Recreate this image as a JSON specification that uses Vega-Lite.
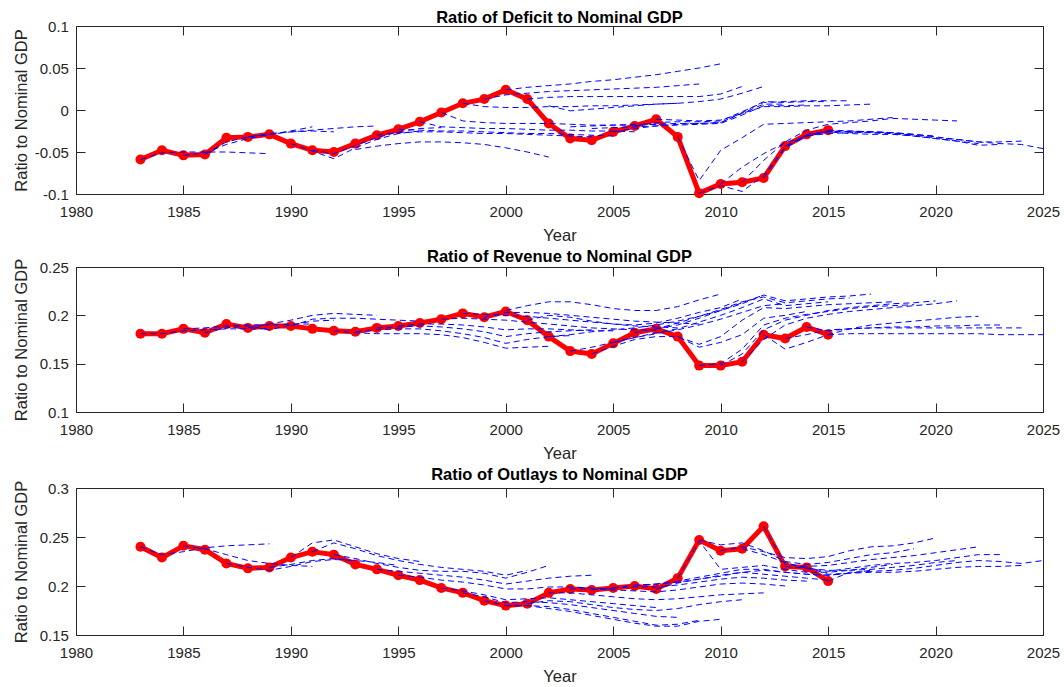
{
"$schema": "https://vega.github.io/schema/vega-lite/v6.json",
"padding": {"top": 9, "left": 12, "right": 5, "bottom": 5},
"spacing": 4,
"config": {
  "font": "Liberation Sans",
  "view": {"stroke": "#262626", "strokeWidth": 1},
  "axis": {"grid": false, "domainColor": "#262626", "tickColor": "#262626", "labelColor": "#262626", "titleColor": "#262626", "labelFont": "Liberation Sans", "labelFontSize": 15, "titleFont": "Liberation Sans", "titleFontSize": 16.5, "titleFontWeight": "normal", "tickSize": -9, "labelFlush": false, "labelOverlap": false},
  "axisX": {"labelPadding": 19},
  "axisY": {"labelPadding": 16.6},
  "axisBottom": {"titleY": 46, "titleBaseline": "alphabetic"},
  "axisLeft": {"titleX": -50, "titleBaseline": "alphabetic"},
  "title": {"font": "Liberation Sans", "fontSize": 16.5, "fontWeight": "bold", "color": "#000000", "anchor": "middle", "offset": -7, "baseline": "alphabetic"}
},
"datasets": {
"defAct": [{"year":1983,"value":-0.059},{"year":1984,"value":-0.048},{"year":1985,"value":-0.054},{"year":1986,"value":-0.053},{"year":1987,"value":-0.033},{"year":1988,"value":-0.032},{"year":1989,"value":-0.029},{"year":1990,"value":-0.040},{"year":1991,"value":-0.048},{"year":1992,"value":-0.050},{"year":1993,"value":-0.040},{"year":1994,"value":-0.030},{"year":1995,"value":-0.023},{"year":1996,"value":-0.014},{"year":1997,"value":-0.003},{"year":1998,"value":0.008},{"year":1999,"value":0.013},{"year":2000,"value":0.024},{"year":2001,"value":0.013},{"year":2002,"value":-0.016},{"year":2003,"value":-0.034},{"year":2004,"value":-0.036},{"year":2005,"value":-0.026},{"year":2006,"value":-0.019},{"year":2007,"value":-0.011},{"year":2008,"value":-0.032},{"year":2009,"value":-0.099},{"year":2010,"value":-0.088},{"year":2011,"value":-0.086},{"year":2012,"value":-0.081},{"year":2013,"value":-0.043},{"year":2014,"value":-0.029},{"year":2015,"value":-0.024}],
"revAct": [{"year":1983,"value":0.181},{"year":1984,"value":0.181},{"year":1985,"value":0.186},{"year":1986,"value":0.182},{"year":1987,"value":0.191},{"year":1988,"value":0.187},{"year":1989,"value":0.189},{"year":1990,"value":0.189},{"year":1991,"value":0.186},{"year":1992,"value":0.184},{"year":1993,"value":0.183},{"year":1994,"value":0.187},{"year":1995,"value":0.189},{"year":1996,"value":0.192},{"year":1997,"value":0.196},{"year":1998,"value":0.202},{"year":1999,"value":0.198},{"year":2000,"value":0.204},{"year":2001,"value":0.195},{"year":2002,"value":0.178},{"year":2003,"value":0.163},{"year":2004,"value":0.160},{"year":2005,"value":0.171},{"year":2006,"value":0.182},{"year":2007,"value":0.186},{"year":2008,"value":0.178},{"year":2009,"value":0.148},{"year":2010,"value":0.148},{"year":2011,"value":0.152},{"year":2012,"value":0.180},{"year":2013,"value":0.176},{"year":2014,"value":0.188},{"year":2015,"value":0.180}],
"outAct": [{"year":1983,"value":0.240},{"year":1984,"value":0.229},{"year":1985,"value":0.241},{"year":1986,"value":0.237},{"year":1987,"value":0.223},{"year":1988,"value":0.218},{"year":1989,"value":0.219},{"year":1990,"value":0.229},{"year":1991,"value":0.235},{"year":1992,"value":0.232},{"year":1993,"value":0.222},{"year":1994,"value":0.217},{"year":1995,"value":0.211},{"year":1996,"value":0.206},{"year":1997,"value":0.198},{"year":1998,"value":0.193},{"year":1999,"value":0.185},{"year":2000,"value":0.180},{"year":2001,"value":0.182},{"year":2002,"value":0.193},{"year":2003,"value":0.197},{"year":2004,"value":0.196},{"year":2005,"value":0.198},{"year":2006,"value":0.200},{"year":2007,"value":0.197},{"year":2008,"value":0.208},{"year":2009,"value":0.247},{"year":2010,"value":0.236},{"year":2011,"value":0.238},{"year":2012,"value":0.261},{"year":2013,"value":0.220},{"year":2014,"value":0.219},{"year":2015,"value":0.205}],
"defFc": [
{"vintage":1983,"year":1983,"value":-0.059},{"vintage":1983,"year":1984,"value":-0.051},{"vintage":1983,"year":1985,"value":-0.050},{"vintage":1983,"year":1986,"value":-0.050},{"vintage":1983,"year":1987,"value":-0.050},{"vintage":1983,"year":1988,"value":-0.051},{"vintage":1983,"year":1989,"value":-0.052},
{"vintage":1985,"year":1985,"value":-0.054},{"vintage":1985,"year":1986,"value":-0.051},{"vintage":1985,"year":1987,"value":-0.041},{"vintage":1985,"year":1988,"value":-0.034},{"vintage":1985,"year":1989,"value":-0.029},{"vintage":1985,"year":1990,"value":-0.025},{"vintage":1985,"year":1991,"value":-0.020},
{"vintage":1986,"year":1986,"value":-0.053},{"vintage":1986,"year":1987,"value":-0.038},{"vintage":1986,"year":1988,"value":-0.032},{"vintage":1986,"year":1989,"value":-0.028},{"vintage":1986,"year":1990,"value":-0.026},{"vintage":1986,"year":1991,"value":-0.025},{"vintage":1986,"year":1992,"value":-0.026},
{"vintage":1988,"year":1988,"value":-0.032},{"vintage":1988,"year":1989,"value":-0.029},{"vintage":1988,"year":1990,"value":-0.026},{"vintage":1988,"year":1991,"value":-0.024},{"vintage":1988,"year":1992,"value":-0.022},{"vintage":1988,"year":1993,"value":-0.020},{"vintage":1988,"year":1994,"value":-0.019},
{"vintage":1990,"year":1990,"value":-0.040},{"vintage":1990,"year":1991,"value":-0.049},{"vintage":1990,"year":1992,"value":-0.058},{"vintage":1990,"year":1993,"value":-0.045},{"vintage":1990,"year":1994,"value":-0.035},{"vintage":1990,"year":1995,"value":-0.028},{"vintage":1990,"year":1996,"value":-0.025},
{"vintage":1991,"year":1991,"value":-0.048},{"vintage":1991,"year":1992,"value":-0.052},{"vintage":1991,"year":1993,"value":-0.042},{"vintage":1991,"year":1994,"value":-0.033},{"vintage":1991,"year":1995,"value":-0.026},{"vintage":1991,"year":1996,"value":-0.022},{"vintage":1991,"year":1997,"value":-0.021},
{"vintage":1993,"year":1993,"value":-0.047},{"vintage":1993,"year":1994,"value":-0.043},{"vintage":1993,"year":1995,"value":-0.040},{"vintage":1993,"year":1996,"value":-0.038},{"vintage":1993,"year":1997,"value":-0.038},{"vintage":1993,"year":1998,"value":-0.039},{"vintage":1993,"year":1999,"value":-0.041},{"vintage":1993,"year":2000,"value":-0.045},{"vintage":1993,"year":2001,"value":-0.050},{"vintage":1993,"year":2002,"value":-0.056},
{"vintage":1994,"year":1994,"value":-0.030},{"vintage":1994,"year":1995,"value":-0.027},{"vintage":1994,"year":1996,"value":-0.026},{"vintage":1994,"year":1997,"value":-0.026},{"vintage":1994,"year":1998,"value":-0.027},{"vintage":1994,"year":1999,"value":-0.028},{"vintage":1994,"year":2000,"value":-0.028},{"vintage":1994,"year":2001,"value":-0.029},{"vintage":1994,"year":2002,"value":-0.030},{"vintage":1994,"year":2003,"value":-0.031},{"vintage":1994,"year":2004,"value":-0.032},
{"vintage":1995,"year":1995,"value":-0.023},{"vintage":1995,"year":1996,"value":-0.024},{"vintage":1995,"year":1997,"value":-0.025},{"vintage":1995,"year":1998,"value":-0.025},{"vintage":1995,"year":1999,"value":-0.026},{"vintage":1995,"year":2000,"value":-0.027},{"vintage":1995,"year":2001,"value":-0.028},{"vintage":1995,"year":2002,"value":-0.028},{"vintage":1995,"year":2003,"value":-0.029},{"vintage":1995,"year":2004,"value":-0.030},{"vintage":1995,"year":2005,"value":-0.031},
{"vintage":1996,"year":1996,"value":-0.014},{"vintage":1996,"year":1997,"value":-0.020},{"vintage":1996,"year":1998,"value":-0.021},{"vintage":1996,"year":1999,"value":-0.022},{"vintage":1996,"year":2000,"value":-0.022},{"vintage":1996,"year":2001,"value":-0.023},{"vintage":1996,"year":2002,"value":-0.024},{"vintage":1996,"year":2003,"value":-0.024},{"vintage":1996,"year":2004,"value":-0.025},{"vintage":1996,"year":2005,"value":-0.025},{"vintage":1996,"year":2006,"value":-0.026},
{"vintage":1997,"year":1997,"value":-0.003},{"vintage":1997,"year":1998,"value":-0.013},{"vintage":1997,"year":1999,"value":-0.015},{"vintage":1997,"year":2000,"value":-0.016},{"vintage":1997,"year":2001,"value":-0.016},{"vintage":1997,"year":2002,"value":-0.016},{"vintage":1997,"year":2003,"value":-0.017},{"vintage":1997,"year":2004,"value":-0.018},{"vintage":1997,"year":2005,"value":-0.018},{"vintage":1997,"year":2006,"value":-0.018},{"vintage":1997,"year":2007,"value":-0.017},
{"vintage":1998,"year":1998,"value":0.008},{"vintage":1998,"year":1999,"value":0.004},{"vintage":1998,"year":2000,"value":0.003},{"vintage":1998,"year":2001,"value":0.003},{"vintage":1998,"year":2002,"value":0.004},{"vintage":1998,"year":2003,"value":0.004},{"vintage":1998,"year":2004,"value":0.005},{"vintage":1998,"year":2005,"value":0.005},{"vintage":1998,"year":2006,"value":0.006},{"vintage":1998,"year":2007,"value":0.007},{"vintage":1998,"year":2008,"value":0.008},
{"vintage":1999,"year":1999,"value":0.013},{"vintage":1999,"year":2000,"value":0.018},{"vintage":1999,"year":2001,"value":0.020},{"vintage":1999,"year":2002,"value":0.022},{"vintage":1999,"year":2003,"value":0.023},{"vintage":1999,"year":2004,"value":0.024},{"vintage":1999,"year":2005,"value":0.025},{"vintage":1999,"year":2006,"value":0.026},{"vintage":1999,"year":2007,"value":0.027},{"vintage":1999,"year":2008,"value":0.029},{"vintage":1999,"year":2009,"value":0.031},
{"vintage":2000,"year":2000,"value":0.024},{"vintage":2000,"year":2001,"value":0.027},{"vintage":2000,"year":2002,"value":0.029},{"vintage":2000,"year":2003,"value":0.031},{"vintage":2000,"year":2004,"value":0.034},{"vintage":2000,"year":2005,"value":0.036},{"vintage":2000,"year":2006,"value":0.039},{"vintage":2000,"year":2007,"value":0.042},{"vintage":2000,"year":2008,"value":0.046},{"vintage":2000,"year":2009,"value":0.050},{"vintage":2000,"year":2010,"value":0.055},
{"vintage":2001,"year":2001,"value":0.013},{"vintage":2001,"year":2002,"value":0.015},{"vintage":2001,"year":2003,"value":0.016},{"vintage":2001,"year":2004,"value":0.016},{"vintage":2001,"year":2005,"value":0.016},{"vintage":2001,"year":2006,"value":0.016},{"vintage":2001,"year":2007,"value":0.016},{"vintage":2001,"year":2008,"value":0.016},{"vintage":2001,"year":2009,"value":0.016},{"vintage":2001,"year":2010,"value":0.019},{"vintage":2001,"year":2011,"value":0.028},
{"vintage":2002,"year":2002,"value":0.005},{"vintage":2002,"year":2003,"value":-0.001},{"vintage":2002,"year":2004,"value":0.001},{"vintage":2002,"year":2005,"value":0.003},{"vintage":2002,"year":2006,"value":0.005},{"vintage":2002,"year":2007,"value":0.007},{"vintage":2002,"year":2008,"value":0.008},{"vintage":2002,"year":2009,"value":0.010},{"vintage":2002,"year":2010,"value":0.013},{"vintage":2002,"year":2011,"value":0.020},{"vintage":2002,"year":2012,"value":0.028},
{"vintage":2003,"year":2003,"value":-0.020},{"vintage":2003,"year":2004,"value":-0.019},{"vintage":2003,"year":2005,"value":-0.018},{"vintage":2003,"year":2006,"value":-0.017},{"vintage":2003,"year":2007,"value":-0.017},{"vintage":2003,"year":2008,"value":-0.016},{"vintage":2003,"year":2009,"value":-0.016},{"vintage":2003,"year":2010,"value":-0.015},{"vintage":2003,"year":2011,"value":-0.004},{"vintage":2003,"year":2012,"value":0.007},{"vintage":2003,"year":2013,"value":0.007},
{"vintage":2004,"year":2004,"value":-0.022},{"vintage":2004,"year":2005,"value":-0.021},{"vintage":2004,"year":2006,"value":-0.020},{"vintage":2004,"year":2007,"value":-0.019},{"vintage":2004,"year":2008,"value":-0.018},{"vintage":2004,"year":2009,"value":-0.017},{"vintage":2004,"year":2010,"value":-0.016},{"vintage":2004,"year":2011,"value":-0.006},{"vintage":2004,"year":2012,"value":0.005},{"vintage":2004,"year":2013,"value":0.005},{"vintage":2004,"year":2014,"value":0.006},
{"vintage":2005,"year":2005,"value":-0.026},{"vintage":2005,"year":2006,"value":-0.022},{"vintage":2005,"year":2007,"value":-0.019},{"vintage":2005,"year":2008,"value":-0.017},{"vintage":2005,"year":2009,"value":-0.016},{"vintage":2005,"year":2010,"value":-0.015},{"vintage":2005,"year":2011,"value":-0.003},{"vintage":2005,"year":2012,"value":0.010},{"vintage":2005,"year":2013,"value":0.009},{"vintage":2005,"year":2014,"value":0.010},{"vintage":2005,"year":2015,"value":0.010},
{"vintage":2006,"year":2006,"value":-0.019},{"vintage":2006,"year":2007,"value":-0.015},{"vintage":2006,"year":2008,"value":-0.014},{"vintage":2006,"year":2009,"value":-0.014},{"vintage":2006,"year":2010,"value":-0.013},{"vintage":2006,"year":2011,"value":-0.002},{"vintage":2006,"year":2012,"value":0.009},{"vintage":2006,"year":2013,"value":0.010},{"vintage":2006,"year":2014,"value":0.011},{"vintage":2006,"year":2015,"value":0.011},{"vintage":2006,"year":2016,"value":0.011},
{"vintage":2007,"year":2007,"value":-0.011},{"vintage":2007,"year":2008,"value":-0.012},{"vintage":2007,"year":2009,"value":-0.013},{"vintage":2007,"year":2010,"value":-0.012},{"vintage":2007,"year":2011,"value":-0.004},{"vintage":2007,"year":2012,"value":0.004},{"vintage":2007,"year":2013,"value":0.004},{"vintage":2007,"year":2014,"value":0.005},{"vintage":2007,"year":2015,"value":0.005},{"vintage":2007,"year":2016,"value":0.006},{"vintage":2007,"year":2017,"value":0.007},
{"vintage":2008,"year":2008,"value":-0.032},{"vintage":2008,"year":2009,"value":-0.084},{"vintage":2008,"year":2010,"value":-0.048},{"vintage":2008,"year":2011,"value":-0.033},{"vintage":2008,"year":2012,"value":-0.017},{"vintage":2008,"year":2013,"value":-0.016},{"vintage":2008,"year":2014,"value":-0.015},{"vintage":2008,"year":2015,"value":-0.014},{"vintage":2008,"year":2016,"value":-0.013},{"vintage":2008,"year":2017,"value":-0.011},{"vintage":2008,"year":2018,"value":-0.009},
{"vintage":2009,"year":2009,"value":-0.099},{"vintage":2009,"year":2010,"value":-0.090},{"vintage":2009,"year":2011,"value":-0.097},{"vintage":2009,"year":2012,"value":-0.078},{"vintage":2009,"year":2013,"value":-0.044},{"vintage":2009,"year":2014,"value":-0.031},{"vintage":2009,"year":2015,"value":-0.026},{"vintage":2009,"year":2016,"value":-0.026},{"vintage":2009,"year":2017,"value":-0.027},{"vintage":2009,"year":2018,"value":-0.028},{"vintage":2009,"year":2019,"value":-0.030},
{"vintage":2010,"year":2010,"value":-0.088},{"vintage":2010,"year":2011,"value":-0.068},{"vintage":2010,"year":2012,"value":-0.052},{"vintage":2010,"year":2013,"value":-0.039},{"vintage":2010,"year":2014,"value":-0.031},{"vintage":2010,"year":2015,"value":-0.028},{"vintage":2010,"year":2016,"value":-0.027},{"vintage":2010,"year":2017,"value":-0.026},{"vintage":2010,"year":2018,"value":-0.027},{"vintage":2010,"year":2019,"value":-0.029},{"vintage":2010,"year":2020,"value":-0.031},
{"vintage":2011,"year":2011,"value":-0.086},{"vintage":2011,"year":2012,"value":-0.060},{"vintage":2011,"year":2013,"value":-0.038},{"vintage":2011,"year":2014,"value":-0.024},{"vintage":2011,"year":2015,"value":-0.017},{"vintage":2011,"year":2016,"value":-0.015},{"vintage":2011,"year":2017,"value":-0.013},{"vintage":2011,"year":2018,"value":-0.010},{"vintage":2011,"year":2019,"value":-0.011},{"vintage":2011,"year":2020,"value":-0.012},{"vintage":2011,"year":2021,"value":-0.013},
{"vintage":2012,"year":2012,"value":-0.081},{"vintage":2012,"year":2013,"value":-0.045},{"vintage":2012,"year":2014,"value":-0.031},{"vintage":2012,"year":2015,"value":-0.025},{"vintage":2012,"year":2016,"value":-0.026},{"vintage":2012,"year":2017,"value":-0.027},{"vintage":2012,"year":2018,"value":-0.028},{"vintage":2012,"year":2019,"value":-0.031},{"vintage":2012,"year":2020,"value":-0.034},{"vintage":2012,"year":2021,"value":-0.037},{"vintage":2012,"year":2022,"value":-0.040},
{"vintage":2013,"year":2013,"value":-0.043},{"vintage":2013,"year":2014,"value":-0.030},{"vintage":2013,"year":2015,"value":-0.026},{"vintage":2013,"year":2016,"value":-0.028},{"vintage":2013,"year":2017,"value":-0.029},{"vintage":2013,"year":2018,"value":-0.029},{"vintage":2013,"year":2019,"value":-0.031},{"vintage":2013,"year":2020,"value":-0.034},{"vintage":2013,"year":2021,"value":-0.037},{"vintage":2013,"year":2022,"value":-0.042},{"vintage":2013,"year":2023,"value":-0.041},
{"vintage":2014,"year":2014,"value":-0.029},{"vintage":2014,"year":2015,"value":-0.025},{"vintage":2014,"year":2016,"value":-0.025},{"vintage":2014,"year":2017,"value":-0.026},{"vintage":2014,"year":2018,"value":-0.027},{"vintage":2014,"year":2019,"value":-0.030},{"vintage":2014,"year":2020,"value":-0.033},{"vintage":2014,"year":2021,"value":-0.035},{"vintage":2014,"year":2022,"value":-0.038},{"vintage":2014,"year":2023,"value":-0.038},{"vintage":2014,"year":2024,"value":-0.037},
{"vintage":2015,"year":2015,"value":-0.024},{"vintage":2015,"year":2016,"value":-0.025},{"vintage":2015,"year":2017,"value":-0.026},{"vintage":2015,"year":2018,"value":-0.027},{"vintage":2015,"year":2019,"value":-0.029},{"vintage":2015,"year":2020,"value":-0.032},{"vintage":2015,"year":2021,"value":-0.035},{"vintage":2015,"year":2022,"value":-0.038},{"vintage":2015,"year":2023,"value":-0.040},{"vintage":2015,"year":2024,"value":-0.041},{"vintage":2015,"year":2025,"value":-0.046}
],
"revFc": [
{"vintage":1983,"year":1983,"value":0.181},{"vintage":1983,"year":1984,"value":0.181},{"vintage":1983,"year":1985,"value":0.184},{"vintage":1983,"year":1986,"value":0.185},{"vintage":1983,"year":1987,"value":0.186},{"vintage":1983,"year":1988,"value":0.186},{"vintage":1983,"year":1989,"value":0.186},
{"vintage":1985,"year":1985,"value":0.186},{"vintage":1985,"year":1986,"value":0.187},{"vintage":1985,"year":1987,"value":0.189},{"vintage":1985,"year":1988,"value":0.190},{"vintage":1985,"year":1989,"value":0.190},{"vintage":1985,"year":1990,"value":0.191},{"vintage":1985,"year":1991,"value":0.191},
{"vintage":1986,"year":1986,"value":0.182},{"vintage":1986,"year":1987,"value":0.187},{"vintage":1986,"year":1988,"value":0.189},{"vintage":1986,"year":1989,"value":0.185},{"vintage":1986,"year":1990,"value":0.190},{"vintage":1986,"year":1991,"value":0.194},{"vintage":1986,"year":1992,"value":0.195},
{"vintage":1988,"year":1988,"value":0.187},{"vintage":1988,"year":1989,"value":0.191},{"vintage":1988,"year":1990,"value":0.195},{"vintage":1988,"year":1991,"value":0.200},{"vintage":1988,"year":1992,"value":0.202},{"vintage":1988,"year":1993,"value":0.201},{"vintage":1988,"year":1994,"value":0.200},
{"vintage":1990,"year":1990,"value":0.189},{"vintage":1990,"year":1991,"value":0.196},{"vintage":1990,"year":1992,"value":0.197},{"vintage":1990,"year":1993,"value":0.197},{"vintage":1990,"year":1994,"value":0.196},{"vintage":1990,"year":1995,"value":0.195},{"vintage":1990,"year":1996,"value":0.194},
{"vintage":1992,"year":1992,"value":0.184},{"vintage":1992,"year":1993,"value":0.182},{"vintage":1992,"year":1994,"value":0.181},{"vintage":1992,"year":1995,"value":0.181},{"vintage":1992,"year":1996,"value":0.181},{"vintage":1992,"year":1997,"value":0.180},{"vintage":1992,"year":1998,"value":0.177},{"vintage":1992,"year":1999,"value":0.172},{"vintage":1992,"year":2000,"value":0.166},{"vintage":1992,"year":2001,"value":0.167},{"vintage":1992,"year":2002,"value":0.168},
{"vintage":1993,"year":1993,"value":0.183},{"vintage":1993,"year":1994,"value":0.185},{"vintage":1993,"year":1995,"value":0.186},{"vintage":1993,"year":1996,"value":0.186},{"vintage":1993,"year":1997,"value":0.184},{"vintage":1993,"year":1998,"value":0.181},{"vintage":1993,"year":1999,"value":0.177},{"vintage":1993,"year":2000,"value":0.171},{"vintage":1993,"year":2001,"value":0.175},{"vintage":1993,"year":2002,"value":0.178},{"vintage":1993,"year":2003,"value":0.179},
{"vintage":1994,"year":1994,"value":0.187},{"vintage":1994,"year":1995,"value":0.188},{"vintage":1994,"year":1996,"value":0.189},{"vintage":1994,"year":1997,"value":0.188},{"vintage":1994,"year":1998,"value":0.186},{"vintage":1994,"year":1999,"value":0.183},{"vintage":1994,"year":2000,"value":0.178},{"vintage":1994,"year":2001,"value":0.181},{"vintage":1994,"year":2002,"value":0.183},{"vintage":1994,"year":2003,"value":0.184},{"vintage":1994,"year":2004,"value":0.185},
{"vintage":1995,"year":1995,"value":0.189},{"vintage":1995,"year":1996,"value":0.191},{"vintage":1995,"year":1997,"value":0.191},{"vintage":1995,"year":1998,"value":0.190},{"vintage":1995,"year":1999,"value":0.188},{"vintage":1995,"year":2000,"value":0.185},{"vintage":1995,"year":2001,"value":0.186},{"vintage":1995,"year":2002,"value":0.186},{"vintage":1995,"year":2003,"value":0.185},{"vintage":1995,"year":2004,"value":0.184},{"vintage":1995,"year":2005,"value":0.184},
{"vintage":1997,"year":1997,"value":0.196},{"vintage":1997,"year":1998,"value":0.197},{"vintage":1997,"year":1999,"value":0.196},{"vintage":1997,"year":2000,"value":0.195},{"vintage":1997,"year":2001,"value":0.193},{"vintage":1997,"year":2002,"value":0.191},{"vintage":1997,"year":2003,"value":0.189},{"vintage":1997,"year":2004,"value":0.187},{"vintage":1997,"year":2005,"value":0.186},{"vintage":1997,"year":2006,"value":0.185},{"vintage":1997,"year":2007,"value":0.185},
{"vintage":1998,"year":1998,"value":0.202},{"vintage":1998,"year":1999,"value":0.201},{"vintage":1998,"year":2000,"value":0.200},{"vintage":1998,"year":2001,"value":0.199},{"vintage":1998,"year":2002,"value":0.197},{"vintage":1998,"year":2003,"value":0.195},{"vintage":1998,"year":2004,"value":0.193},{"vintage":1998,"year":2005,"value":0.191},{"vintage":1998,"year":2006,"value":0.189},{"vintage":1998,"year":2007,"value":0.188},{"vintage":1998,"year":2008,"value":0.187},
{"vintage":1999,"year":1999,"value":0.198},{"vintage":1999,"year":2000,"value":0.203},{"vintage":1999,"year":2001,"value":0.203},{"vintage":1999,"year":2002,"value":0.202},{"vintage":1999,"year":2003,"value":0.200},{"vintage":1999,"year":2004,"value":0.198},{"vintage":1999,"year":2005,"value":0.196},{"vintage":1999,"year":2006,"value":0.194},{"vintage":1999,"year":2007,"value":0.193},{"vintage":1999,"year":2008,"value":0.192},{"vintage":1999,"year":2009,"value":0.191},
{"vintage":2000,"year":2000,"value":0.205},{"vintage":2000,"year":2001,"value":0.210},{"vintage":2000,"year":2002,"value":0.214},{"vintage":2000,"year":2003,"value":0.214},{"vintage":2000,"year":2004,"value":0.211},{"vintage":2000,"year":2005,"value":0.207},{"vintage":2000,"year":2006,"value":0.205},{"vintage":2000,"year":2007,"value":0.205},{"vintage":2000,"year":2008,"value":0.209},{"vintage":2000,"year":2009,"value":0.216},{"vintage":2000,"year":2010,"value":0.222},
{"vintage":2001,"year":2001,"value":0.195},{"vintage":2001,"year":2002,"value":0.200},{"vintage":2001,"year":2003,"value":0.198},{"vintage":2001,"year":2004,"value":0.194},{"vintage":2001,"year":2005,"value":0.191},{"vintage":2001,"year":2006,"value":0.190},{"vintage":2001,"year":2007,"value":0.192},{"vintage":2001,"year":2008,"value":0.197},{"vintage":2001,"year":2009,"value":0.203},{"vintage":2001,"year":2010,"value":0.208},{"vintage":2001,"year":2011,"value":0.217},
{"vintage":2002,"year":2002,"value":0.178},{"vintage":2002,"year":2003,"value":0.180},{"vintage":2002,"year":2004,"value":0.183},{"vintage":2002,"year":2005,"value":0.185},{"vintage":2002,"year":2006,"value":0.187},{"vintage":2002,"year":2007,"value":0.190},{"vintage":2002,"year":2008,"value":0.194},{"vintage":2002,"year":2009,"value":0.199},{"vintage":2002,"year":2010,"value":0.205},{"vintage":2002,"year":2011,"value":0.213},{"vintage":2002,"year":2012,"value":0.221},
{"vintage":2003,"year":2003,"value":0.163},{"vintage":2003,"year":2004,"value":0.167},{"vintage":2003,"year":2005,"value":0.172},{"vintage":2003,"year":2006,"value":0.177},{"vintage":2003,"year":2007,"value":0.181},{"vintage":2003,"year":2008,"value":0.185},{"vintage":2003,"year":2009,"value":0.190},{"vintage":2003,"year":2010,"value":0.196},{"vintage":2003,"year":2011,"value":0.203},{"vintage":2003,"year":2012,"value":0.210},{"vintage":2003,"year":2013,"value":0.212},
{"vintage":2004,"year":2004,"value":0.160},{"vintage":2004,"year":2005,"value":0.168},{"vintage":2004,"year":2006,"value":0.175},{"vintage":2004,"year":2007,"value":0.178},{"vintage":2004,"year":2008,"value":0.178},{"vintage":2004,"year":2009,"value":0.167},{"vintage":2004,"year":2010,"value":0.172},{"vintage":2004,"year":2011,"value":0.180},{"vintage":2004,"year":2012,"value":0.197},{"vintage":2004,"year":2013,"value":0.200},{"vintage":2004,"year":2014,"value":0.204},
{"vintage":2005,"year":2005,"value":0.172},{"vintage":2005,"year":2006,"value":0.177},{"vintage":2005,"year":2007,"value":0.182},{"vintage":2005,"year":2008,"value":0.186},{"vintage":2005,"year":2009,"value":0.193},{"vintage":2005,"year":2010,"value":0.200},{"vintage":2005,"year":2011,"value":0.208},{"vintage":2005,"year":2012,"value":0.217},{"vintage":2005,"year":2013,"value":0.210},{"vintage":2005,"year":2014,"value":0.212},{"vintage":2005,"year":2015,"value":0.214},
{"vintage":2006,"year":2006,"value":0.182},{"vintage":2006,"year":2007,"value":0.186},{"vintage":2006,"year":2008,"value":0.192},{"vintage":2006,"year":2009,"value":0.199},{"vintage":2006,"year":2010,"value":0.206},{"vintage":2006,"year":2011,"value":0.214},{"vintage":2006,"year":2012,"value":0.219},{"vintage":2006,"year":2013,"value":0.213},{"vintage":2006,"year":2014,"value":0.215},{"vintage":2006,"year":2015,"value":0.217},{"vintage":2006,"year":2016,"value":0.218},
{"vintage":2007,"year":2007,"value":0.186},{"vintage":2007,"year":2008,"value":0.190},{"vintage":2007,"year":2009,"value":0.197},{"vintage":2007,"year":2010,"value":0.205},{"vintage":2007,"year":2011,"value":0.212},{"vintage":2007,"year":2012,"value":0.221},{"vintage":2007,"year":2013,"value":0.215},{"vintage":2007,"year":2014,"value":0.217},{"vintage":2007,"year":2015,"value":0.219},{"vintage":2007,"year":2016,"value":0.220},{"vintage":2007,"year":2017,"value":0.222},
{"vintage":2008,"year":2008,"value":0.178},{"vintage":2008,"year":2009,"value":0.170},{"vintage":2008,"year":2010,"value":0.178},{"vintage":2008,"year":2011,"value":0.195},{"vintage":2008,"year":2012,"value":0.208},{"vintage":2008,"year":2013,"value":0.207},{"vintage":2008,"year":2014,"value":0.209},{"vintage":2008,"year":2015,"value":0.211},{"vintage":2008,"year":2016,"value":0.212},{"vintage":2008,"year":2017,"value":0.213},{"vintage":2008,"year":2018,"value":0.214},
{"vintage":2009,"year":2009,"value":0.148},{"vintage":2009,"year":2010,"value":0.150},{"vintage":2009,"year":2011,"value":0.165},{"vintage":2009,"year":2012,"value":0.190},{"vintage":2009,"year":2013,"value":0.197},{"vintage":2009,"year":2014,"value":0.201},{"vintage":2009,"year":2015,"value":0.204},{"vintage":2009,"year":2016,"value":0.207},{"vintage":2009,"year":2017,"value":0.209},{"vintage":2009,"year":2018,"value":0.210},{"vintage":2009,"year":2019,"value":0.211},
{"vintage":2010,"year":2010,"value":0.148},{"vintage":2010,"year":2011,"value":0.160},{"vintage":2010,"year":2012,"value":0.185},{"vintage":2010,"year":2013,"value":0.195},{"vintage":2010,"year":2014,"value":0.200},{"vintage":2010,"year":2015,"value":0.205},{"vintage":2010,"year":2016,"value":0.208},{"vintage":2010,"year":2017,"value":0.210},{"vintage":2010,"year":2018,"value":0.212},{"vintage":2010,"year":2019,"value":0.213},{"vintage":2010,"year":2020,"value":0.215},
{"vintage":2011,"year":2011,"value":0.152},{"vintage":2011,"year":2012,"value":0.175},{"vintage":2011,"year":2013,"value":0.190},{"vintage":2011,"year":2014,"value":0.197},{"vintage":2011,"year":2015,"value":0.201},{"vintage":2011,"year":2016,"value":0.204},{"vintage":2011,"year":2017,"value":0.206},{"vintage":2011,"year":2018,"value":0.208},{"vintage":2011,"year":2019,"value":0.210},{"vintage":2011,"year":2020,"value":0.212},{"vintage":2011,"year":2021,"value":0.215},
{"vintage":2012,"year":2012,"value":0.180},{"vintage":2012,"year":2013,"value":0.165},{"vintage":2012,"year":2014,"value":0.172},{"vintage":2012,"year":2015,"value":0.180},{"vintage":2012,"year":2016,"value":0.186},{"vintage":2012,"year":2017,"value":0.190},{"vintage":2012,"year":2018,"value":0.192},{"vintage":2012,"year":2019,"value":0.194},{"vintage":2012,"year":2020,"value":0.196},{"vintage":2012,"year":2021,"value":0.198},{"vintage":2012,"year":2022,"value":0.199},
{"vintage":2013,"year":2013,"value":0.176},{"vintage":2013,"year":2014,"value":0.180},{"vintage":2013,"year":2015,"value":0.185},{"vintage":2013,"year":2016,"value":0.186},{"vintage":2013,"year":2017,"value":0.187},{"vintage":2013,"year":2018,"value":0.188},{"vintage":2013,"year":2019,"value":0.188},{"vintage":2013,"year":2020,"value":0.189},{"vintage":2013,"year":2021,"value":0.189},{"vintage":2013,"year":2022,"value":0.190},{"vintage":2013,"year":2023,"value":0.190},
{"vintage":2014,"year":2014,"value":0.188},{"vintage":2014,"year":2015,"value":0.184},{"vintage":2014,"year":2016,"value":0.186},{"vintage":2014,"year":2017,"value":0.187},{"vintage":2014,"year":2018,"value":0.187},{"vintage":2014,"year":2019,"value":0.187},{"vintage":2014,"year":2020,"value":0.187},{"vintage":2014,"year":2021,"value":0.187},{"vintage":2014,"year":2022,"value":0.187},{"vintage":2014,"year":2023,"value":0.187},{"vintage":2014,"year":2024,"value":0.187},
{"vintage":2015,"year":2015,"value":0.180},{"vintage":2015,"year":2016,"value":0.181},{"vintage":2015,"year":2017,"value":0.181},{"vintage":2015,"year":2018,"value":0.181},{"vintage":2015,"year":2019,"value":0.181},{"vintage":2015,"year":2020,"value":0.181},{"vintage":2015,"year":2021,"value":0.181},{"vintage":2015,"year":2022,"value":0.181},{"vintage":2015,"year":2023,"value":0.180},{"vintage":2015,"year":2024,"value":0.180},{"vintage":2015,"year":2025,"value":0.180}
],
"outFc": [
{"vintage":1983,"year":1983,"value":0.240},{"vintage":1983,"year":1984,"value":0.232},{"vintage":1983,"year":1985,"value":0.235},{"vintage":1983,"year":1986,"value":0.239},{"vintage":1983,"year":1987,"value":0.241},{"vintage":1983,"year":1988,"value":0.242},{"vintage":1983,"year":1989,"value":0.243},
{"vintage":1985,"year":1985,"value":0.241},{"vintage":1985,"year":1986,"value":0.238},{"vintage":1985,"year":1987,"value":0.232},{"vintage":1985,"year":1988,"value":0.226},{"vintage":1985,"year":1989,"value":0.223},{"vintage":1985,"year":1990,"value":0.221},{"vintage":1985,"year":1991,"value":0.220},
{"vintage":1987,"year":1987,"value":0.223},{"vintage":1987,"year":1988,"value":0.219},{"vintage":1987,"year":1989,"value":0.216},{"vintage":1987,"year":1990,"value":0.220},{"vintage":1987,"year":1991,"value":0.225},{"vintage":1987,"year":1992,"value":0.227},{"vintage":1987,"year":1993,"value":0.226},
{"vintage":1989,"year":1989,"value":0.219},{"vintage":1989,"year":1990,"value":0.222},{"vintage":1989,"year":1991,"value":0.226},{"vintage":1989,"year":1992,"value":0.228},{"vintage":1989,"year":1993,"value":0.226},{"vintage":1989,"year":1994,"value":0.224},{"vintage":1989,"year":1995,"value":0.221},
{"vintage":1990,"year":1990,"value":0.229},{"vintage":1990,"year":1991,"value":0.244},{"vintage":1990,"year":1992,"value":0.247},{"vintage":1990,"year":1993,"value":0.240},{"vintage":1990,"year":1994,"value":0.233},{"vintage":1990,"year":1995,"value":0.228},{"vintage":1990,"year":1996,"value":0.225},
{"vintage":1991,"year":1991,"value":0.235},{"vintage":1991,"year":1992,"value":0.244},{"vintage":1991,"year":1993,"value":0.238},{"vintage":1991,"year":1994,"value":0.231},{"vintage":1991,"year":1995,"value":0.226},{"vintage":1991,"year":1996,"value":0.222},{"vintage":1991,"year":1997,"value":0.219},{"vintage":1991,"year":1998,"value":0.217},{"vintage":1991,"year":1999,"value":0.215},{"vintage":1991,"year":2000,"value":0.211},{"vintage":1991,"year":2001,"value":0.216},
{"vintage":1992,"year":1992,"value":0.232},{"vintage":1992,"year":1993,"value":0.228},{"vintage":1992,"year":1994,"value":0.223},{"vintage":1992,"year":1995,"value":0.219},{"vintage":1992,"year":1996,"value":0.216},{"vintage":1992,"year":1997,"value":0.215},{"vintage":1992,"year":1998,"value":0.215},{"vintage":1992,"year":1999,"value":0.213},{"vintage":1992,"year":2000,"value":0.208},{"vintage":1992,"year":2001,"value":0.214},{"vintage":1992,"year":2002,"value":0.221},
{"vintage":1994,"year":1994,"value":0.217},{"vintage":1994,"year":1995,"value":0.215},{"vintage":1994,"year":1996,"value":0.213},{"vintage":1994,"year":1997,"value":0.211},{"vintage":1994,"year":1998,"value":0.209},{"vintage":1994,"year":1999,"value":0.206},{"vintage":1994,"year":2000,"value":0.202},{"vintage":1994,"year":2001,"value":0.205},{"vintage":1994,"year":2002,"value":0.208},{"vintage":1994,"year":2003,"value":0.210},{"vintage":1994,"year":2004,"value":0.211},
{"vintage":1995,"year":1995,"value":0.211},{"vintage":1995,"year":1996,"value":0.209},{"vintage":1995,"year":1997,"value":0.206},{"vintage":1995,"year":1998,"value":0.204},{"vintage":1995,"year":1999,"value":0.201},{"vintage":1995,"year":2000,"value":0.197},{"vintage":1995,"year":2001,"value":0.197},{"vintage":1995,"year":2002,"value":0.199},{"vintage":1995,"year":2003,"value":0.199},{"vintage":1995,"year":2004,"value":0.198},{"vintage":1995,"year":2005,"value":0.197},
{"vintage":1997,"year":1997,"value":0.198},{"vintage":1997,"year":1998,"value":0.195},{"vintage":1997,"year":1999,"value":0.191},{"vintage":1997,"year":2000,"value":0.186},{"vintage":1997,"year":2001,"value":0.187},{"vintage":1997,"year":2002,"value":0.188},{"vintage":1997,"year":2003,"value":0.186},{"vintage":1997,"year":2004,"value":0.184},{"vintage":1997,"year":2005,"value":0.182},{"vintage":1997,"year":2006,"value":0.180},{"vintage":1997,"year":2007,"value":0.178},
{"vintage":1998,"year":1998,"value":0.193},{"vintage":1998,"year":1999,"value":0.189},{"vintage":1998,"year":2000,"value":0.183},{"vintage":1998,"year":2001,"value":0.184},{"vintage":1998,"year":2002,"value":0.183},{"vintage":1998,"year":2003,"value":0.181},{"vintage":1998,"year":2004,"value":0.178},{"vintage":1998,"year":2005,"value":0.175},{"vintage":1998,"year":2006,"value":0.172},{"vintage":1998,"year":2007,"value":0.169},{"vintage":1998,"year":2008,"value":0.168},
{"vintage":1999,"year":1999,"value":0.185},{"vintage":1999,"year":2000,"value":0.180},{"vintage":1999,"year":2001,"value":0.180},{"vintage":1999,"year":2002,"value":0.179},{"vintage":1999,"year":2003,"value":0.176},{"vintage":1999,"year":2004,"value":0.172},{"vintage":1999,"year":2005,"value":0.168},{"vintage":1999,"year":2006,"value":0.164},{"vintage":1999,"year":2007,"value":0.160},{"vintage":1999,"year":2008,"value":0.161},{"vintage":1999,"year":2009,"value":0.165},
{"vintage":2000,"year":2000,"value":0.180},{"vintage":2000,"year":2001,"value":0.180},{"vintage":2000,"year":2002,"value":0.177},{"vintage":2000,"year":2003,"value":0.174},{"vintage":2000,"year":2004,"value":0.170},{"vintage":2000,"year":2005,"value":0.166},{"vintage":2000,"year":2006,"value":0.162},{"vintage":2000,"year":2007,"value":0.159},{"vintage":2000,"year":2008,"value":0.159},{"vintage":2000,"year":2009,"value":0.164},{"vintage":2000,"year":2010,"value":0.166},
{"vintage":2001,"year":2001,"value":0.182},{"vintage":2001,"year":2002,"value":0.185},{"vintage":2001,"year":2003,"value":0.184},{"vintage":2001,"year":2004,"value":0.181},{"vintage":2001,"year":2005,"value":0.178},{"vintage":2001,"year":2006,"value":0.176},{"vintage":2001,"year":2007,"value":0.175},{"vintage":2001,"year":2008,"value":0.177},{"vintage":2001,"year":2009,"value":0.181},{"vintage":2001,"year":2010,"value":0.184},{"vintage":2001,"year":2011,"value":0.186},
{"vintage":2002,"year":2002,"value":0.193},{"vintage":2002,"year":2003,"value":0.193},{"vintage":2002,"year":2004,"value":0.191},{"vintage":2002,"year":2005,"value":0.189},{"vintage":2002,"year":2006,"value":0.187},{"vintage":2002,"year":2007,"value":0.186},{"vintage":2002,"year":2008,"value":0.187},{"vintage":2002,"year":2009,"value":0.189},{"vintage":2002,"year":2010,"value":0.191},{"vintage":2002,"year":2011,"value":0.192},{"vintage":2002,"year":2012,"value":0.193},
{"vintage":2003,"year":2003,"value":0.197},{"vintage":2003,"year":2004,"value":0.197},{"vintage":2003,"year":2005,"value":0.196},{"vintage":2003,"year":2006,"value":0.195},{"vintage":2003,"year":2007,"value":0.194},{"vintage":2003,"year":2008,"value":0.196},{"vintage":2003,"year":2009,"value":0.199},{"vintage":2003,"year":2010,"value":0.202},{"vintage":2003,"year":2011,"value":0.203},{"vintage":2003,"year":2012,"value":0.202},{"vintage":2003,"year":2013,"value":0.200},
{"vintage":2004,"year":2004,"value":0.196},{"vintage":2004,"year":2005,"value":0.198},{"vintage":2004,"year":2006,"value":0.199},{"vintage":2004,"year":2007,"value":0.199},{"vintage":2004,"year":2008,"value":0.201},{"vintage":2004,"year":2009,"value":0.204},{"vintage":2004,"year":2010,"value":0.207},{"vintage":2004,"year":2011,"value":0.209},{"vintage":2004,"year":2012,"value":0.208},{"vintage":2004,"year":2013,"value":0.206},{"vintage":2004,"year":2014,"value":0.205},
{"vintage":2005,"year":2005,"value":0.198},{"vintage":2005,"year":2006,"value":0.201},{"vintage":2005,"year":2007,"value":0.202},{"vintage":2005,"year":2008,"value":0.204},{"vintage":2005,"year":2009,"value":0.207},{"vintage":2005,"year":2010,"value":0.211},{"vintage":2005,"year":2011,"value":0.214},{"vintage":2005,"year":2012,"value":0.212},{"vintage":2005,"year":2013,"value":0.210},{"vintage":2005,"year":2014,"value":0.208},{"vintage":2005,"year":2015,"value":0.206},
{"vintage":2006,"year":2006,"value":0.200},{"vintage":2006,"year":2007,"value":0.202},{"vintage":2006,"year":2008,"value":0.205},{"vintage":2006,"year":2009,"value":0.209},{"vintage":2006,"year":2010,"value":0.213},{"vintage":2006,"year":2011,"value":0.217},{"vintage":2006,"year":2012,"value":0.217},{"vintage":2006,"year":2013,"value":0.214},{"vintage":2006,"year":2014,"value":0.212},{"vintage":2006,"year":2015,"value":0.211},{"vintage":2006,"year":2016,"value":0.213},
{"vintage":2007,"year":2007,"value":0.197},{"vintage":2007,"year":2008,"value":0.203},{"vintage":2007,"year":2009,"value":0.207},{"vintage":2007,"year":2010,"value":0.210},{"vintage":2007,"year":2011,"value":0.214},{"vintage":2007,"year":2012,"value":0.216},{"vintage":2007,"year":2013,"value":0.214},{"vintage":2007,"year":2014,"value":0.212},{"vintage":2007,"year":2015,"value":0.211},{"vintage":2007,"year":2016,"value":0.213},{"vintage":2007,"year":2017,"value":0.216},
{"vintage":2008,"year":2008,"value":0.208},{"vintage":2008,"year":2009,"value":0.246},{"vintage":2008,"year":2010,"value":0.217},{"vintage":2008,"year":2011,"value":0.219},{"vintage":2008,"year":2012,"value":0.221},{"vintage":2008,"year":2013,"value":0.217},{"vintage":2008,"year":2014,"value":0.214},{"vintage":2008,"year":2015,"value":0.214},{"vintage":2008,"year":2016,"value":0.216},{"vintage":2008,"year":2017,"value":0.219},{"vintage":2008,"year":2018,"value":0.222},
{"vintage":2009,"year":2009,"value":0.247},{"vintage":2009,"year":2010,"value":0.242},{"vintage":2009,"year":2011,"value":0.244},{"vintage":2009,"year":2012,"value":0.236},{"vintage":2009,"year":2013,"value":0.225},{"vintage":2009,"year":2014,"value":0.222},{"vintage":2009,"year":2015,"value":0.224},{"vintage":2009,"year":2016,"value":0.228},{"vintage":2009,"year":2017,"value":0.232},{"vintage":2009,"year":2018,"value":0.234},{"vintage":2009,"year":2019,"value":0.238},
{"vintage":2010,"year":2010,"value":0.236},{"vintage":2010,"year":2011,"value":0.240},{"vintage":2010,"year":2012,"value":0.235},{"vintage":2010,"year":2013,"value":0.229},{"vintage":2010,"year":2014,"value":0.228},{"vintage":2010,"year":2015,"value":0.230},{"vintage":2010,"year":2016,"value":0.236},{"vintage":2010,"year":2017,"value":0.240},{"vintage":2010,"year":2018,"value":0.241},{"vintage":2010,"year":2019,"value":0.244},{"vintage":2010,"year":2020,"value":0.249},
{"vintage":2011,"year":2011,"value":0.238},{"vintage":2011,"year":2012,"value":0.232},{"vintage":2011,"year":2013,"value":0.224},{"vintage":2011,"year":2014,"value":0.218},{"vintage":2011,"year":2015,"value":0.216},{"vintage":2011,"year":2016,"value":0.216},{"vintage":2011,"year":2017,"value":0.217},{"vintage":2011,"year":2018,"value":0.219},{"vintage":2011,"year":2019,"value":0.221},{"vintage":2011,"year":2020,"value":0.224},{"vintage":2011,"year":2021,"value":0.226},
{"vintage":2012,"year":2012,"value":0.261},{"vintage":2012,"year":2013,"value":0.222},{"vintage":2012,"year":2014,"value":0.220},{"vintage":2012,"year":2015,"value":0.221},{"vintage":2012,"year":2016,"value":0.224},{"vintage":2012,"year":2017,"value":0.227},{"vintage":2012,"year":2018,"value":0.229},{"vintage":2012,"year":2019,"value":0.231},{"vintage":2012,"year":2020,"value":0.234},{"vintage":2012,"year":2021,"value":0.237},{"vintage":2012,"year":2022,"value":0.240},
{"vintage":2013,"year":2013,"value":0.220},{"vintage":2013,"year":2014,"value":0.218},{"vintage":2013,"year":2015,"value":0.215},{"vintage":2013,"year":2016,"value":0.218},{"vintage":2013,"year":2017,"value":0.221},{"vintage":2013,"year":2018,"value":0.223},{"vintage":2013,"year":2019,"value":0.224},{"vintage":2013,"year":2020,"value":0.226},{"vintage":2013,"year":2021,"value":0.229},{"vintage":2013,"year":2022,"value":0.232},{"vintage":2013,"year":2023,"value":0.232},
{"vintage":2014,"year":2014,"value":0.219},{"vintage":2014,"year":2015,"value":0.212},{"vintage":2014,"year":2016,"value":0.213},{"vintage":2014,"year":2017,"value":0.214},{"vintage":2014,"year":2018,"value":0.214},{"vintage":2014,"year":2019,"value":0.215},{"vintage":2014,"year":2020,"value":0.217},{"vintage":2014,"year":2021,"value":0.219},{"vintage":2014,"year":2022,"value":0.220},{"vintage":2014,"year":2023,"value":0.220},{"vintage":2014,"year":2024,"value":0.221},
{"vintage":2015,"year":2015,"value":0.205},{"vintage":2015,"year":2016,"value":0.214},{"vintage":2015,"year":2017,"value":0.215},{"vintage":2015,"year":2018,"value":0.216},{"vintage":2015,"year":2019,"value":0.218},{"vintage":2015,"year":2020,"value":0.221},{"vintage":2015,"year":2021,"value":0.224},{"vintage":2015,"year":2022,"value":0.226},{"vintage":2015,"year":2023,"value":0.225},{"vintage":2015,"year":2024,"value":0.223},{"vintage":2015,"year":2025,"value":0.226}
]
},
"vconcat": [
{
 "width": 967, "height": 168,
 "title": {"text": "Ratio of Deficit to Nominal GDP"},
 "layer": [
  {"data": {"name": "defAct"},
   "mark": {"type": "line", "color": "#FF0000", "strokeWidth": 5, "point": {"filled": true, "size": 100, "color": "#FF0000", "opacity": 1}},
   "encoding": {
    "x": {"field": "year", "type": "quantitative", "scale": {"domain": [1980, 2025], "nice": false}, "axis": {"orient": "bottom", "title": "Year", "values": [1980,1985,1990,1995,2000,2005,2010,2015,2020,2025], "labelExpr": "'' + datum.value"}},
    "y": {"field": "value", "type": "quantitative", "scale": {"domain": [-0.1, 0.1], "nice": false, "zero": false}, "axis": {"orient": "left", "title": "Ratio to Nominal GDP", "values": [-0.1,-0.05,0,0.05,0.1], "labelExpr": "'' + datum.value"}}
   }},
  {"data": {"name": "defFc"},
   "mark": {"type": "line", "color": "#0000FF", "strokeWidth": 1, "strokeDash": [6, 4]},
   "encoding": {
    "x": {"field": "year", "type": "quantitative", "axis": {"orient": "top", "title": null, "labels": false, "values": [1980,1985,1990,1995,2000,2005,2010,2015,2020,2025]}},
    "y": {"field": "value", "type": "quantitative", "axis": {"orient": "right", "title": null, "labels": false, "values": [-0.1,-0.05,0,0.05,0.1]}},
    "detail": {"field": "vintage", "type": "nominal"}
   }}
 ],
 "resolve": {"axis": {"x": "independent", "y": "independent"}}
},
{
 "width": 967, "height": 145,
 "title": {"text": "Ratio of Revenue to Nominal GDP"},
 "layer": [
  {"data": {"name": "revAct"},
   "mark": {"type": "line", "color": "#FF0000", "strokeWidth": 5, "point": {"filled": true, "size": 100, "color": "#FF0000", "opacity": 1}},
   "encoding": {
    "x": {"field": "year", "type": "quantitative", "scale": {"domain": [1980, 2025], "nice": false}, "axis": {"orient": "bottom", "title": "Year", "values": [1980,1985,1990,1995,2000,2005,2010,2015,2020,2025], "labelExpr": "'' + datum.value"}},
    "y": {"field": "value", "type": "quantitative", "scale": {"domain": [0.1, 0.25], "nice": false, "zero": false}, "axis": {"orient": "left", "title": "Ratio to Nominal GDP", "values": [0.1,0.15,0.2,0.25], "labelExpr": "'' + datum.value"}}
   }},
  {"data": {"name": "revFc"},
   "mark": {"type": "line", "color": "#0000FF", "strokeWidth": 1, "strokeDash": [6, 4]},
   "encoding": {
    "x": {"field": "year", "type": "quantitative", "axis": {"orient": "top", "title": null, "labels": false, "values": [1980,1985,1990,1995,2000,2005,2010,2015,2020,2025]}},
    "y": {"field": "value", "type": "quantitative", "axis": {"orient": "right", "title": null, "labels": false, "values": [0.1,0.15,0.2,0.25]}},
    "detail": {"field": "vintage", "type": "nominal"}
   }}
 ],
 "resolve": {"axis": {"x": "independent", "y": "independent"}}
},
{
 "width": 967, "height": 147,
 "title": {"text": "Ratio of Outlays to Nominal GDP", "offset": -3},
 "layer": [
  {"data": {"name": "outAct"},
   "mark": {"type": "line", "color": "#FF0000", "strokeWidth": 5, "point": {"filled": true, "size": 100, "color": "#FF0000", "opacity": 1}},
   "encoding": {
    "x": {"field": "year", "type": "quantitative", "scale": {"domain": [1980, 2025], "nice": false}, "axis": {"orient": "bottom", "title": "Year", "values": [1980,1985,1990,1995,2000,2005,2010,2015,2020,2025], "labelExpr": "'' + datum.value"}},
    "y": {"field": "value", "type": "quantitative", "scale": {"domain": [0.15, 0.3], "nice": false, "zero": false}, "axis": {"orient": "left", "title": "Ratio to Nominal GDP", "values": [0.15,0.2,0.25,0.3], "labelExpr": "'' + datum.value"}}
   }},
  {"data": {"name": "outFc"},
   "mark": {"type": "line", "color": "#0000FF", "strokeWidth": 1, "strokeDash": [6, 4]},
   "encoding": {
    "x": {"field": "year", "type": "quantitative", "axis": {"orient": "top", "title": null, "labels": false, "values": [1980,1985,1990,1995,2000,2005,2010,2015,2020,2025]}},
    "y": {"field": "value", "type": "quantitative", "axis": {"orient": "right", "title": null, "labels": false, "values": [0.15,0.2,0.25,0.3]}},
    "detail": {"field": "vintage", "type": "nominal"}
   }}
 ],
 "resolve": {"axis": {"x": "independent", "y": "independent"}}
}
]
}
